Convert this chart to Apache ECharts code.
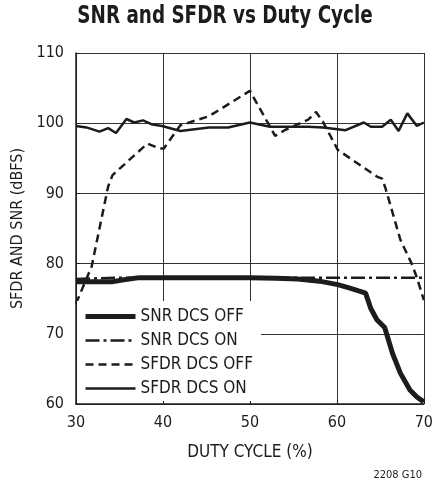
<!DOCTYPE html>
<html>
<head>
<meta charset="utf-8">
<script src="https://cdn.jsdelivr.net/npm/echarts@6/dist/echarts.min.js"></script>
<style>
  html, body { margin: 0; padding: 0; background: #fff; }
  #chart { width: 436px; height: 478px; }
</style>
</head>
<body>
<div id="chart"></div>
<script>
// Duty cycle (%) sample points and measured levels (dBFS) for each trace
const snrOffDuty   = [30, 32, 34.1, 35.5, 37.3, 40, 45, 50, 53, 55.5, 58, 60.1, 61.5, 62.5, 63.3, 63.9, 64.6, 65.5, 66.4, 67.3, 68.4, 69.2, 70];
const snrOffValues = [77.4, 77.4, 77.4, 77.7, 78.0, 78.0, 78.0, 78.0, 77.9, 77.8, 77.5, 77.0, 76.5, 76.1, 75.8, 73.6, 72.0, 70.9, 67.2, 64.4, 62.0, 61.0, 60.3];

const snrOnDuty   = [30, 35, 40, 45, 50, 55, 60, 65, 70];
const snrOnValues = [77.8, 78.0, 78.0, 78.0, 78.0, 78.0, 78.0, 78.0, 78.0];

const sfdrOffDuty   = [30, 31.8, 33.7, 34.2, 38.2, 39.6, 40.1, 42, 45.3, 50, 52.9, 54, 56.7, 57.6, 58.4, 60.1, 64.6, 65.2, 65.6, 67.3, 68.6, 69.2, 70];
const sfdrOffValues = [74.3, 79.6, 91.0, 92.6, 97.1, 96.4, 96.4, 99.7, 101.0, 104.6, 98.2, 99.0, 100.5, 101.6, 100.2, 96.2, 92.4, 92.1, 90.7, 83.4, 80.0, 78.0, 74.8];

const sfdrOnDuty   = [30, 31.2, 32.7, 33.7, 34.6, 35.8, 36.7, 37.7, 38.8, 39.9, 42, 45.3, 47.5, 50, 52.3, 56.7, 58.4, 61, 63.1, 63.9, 65.2, 66.2, 67.1, 68.1, 69.2, 70];
const sfdrOnValues = [99.6, 99.4, 98.8, 99.3, 98.6, 100.6, 100.1, 100.4, 99.8, 99.6, 98.9, 99.4, 99.4, 100.1, 99.5, 99.5, 99.4, 99.0, 100.1, 99.5, 99.5, 100.5, 98.9, 101.4, 99.6, 100.1];

const seriesNames = ['SNR DCS OFF', 'SNR DCS ON', 'SFDR DCS OFF', 'SFDR DCS ON'];
const xTicks = [30, 40, 50, 60, 70];
const yTicks = [60, 70, 80, 90, 100, 110];

const FONT = '"Liberation Sans Narrow", "DejaVu Sans Condensed", "Liberation Sans", sans-serif';
const INK = '#1c1c1c';

// per-trace stroke styles, shared by the plot lines and the legend keys
const strokes = [
  { width: 5 },
  { width: 2.5, type: [14, 4, 3, 4] },
  { width: 2.5, type: [8, 5] },
  { width: 2.5 }
];

function pairs(xs, ys) { return xs.map((x, i) => [x, ys[i]]); }

const traces = [
  pairs(snrOffDuty, snrOffValues),
  pairs(snrOnDuty, snrOnValues),
  pairs(sfdrOffDuty, sfdrOffValues),
  pairs(sfdrOnDuty, sfdrOnValues)
];

const chart = echarts.init(document.getElementById('chart'), null, { renderer: 'canvas' });

chart.setOption({
  animation: false,
  backgroundColor: '#fff',
  graphic: [{
    // condensed bold heading, centred over the plot
    type: 'text',
    x: 225,
    y: 5,
    scaleX: 0.85,
    style: {
      text: 'SNR and SFDR vs Duty Cycle',
      font: 'bold 24px ' + FONT,
      fill: INK,
      align: 'center',
      verticalAlign: 'top'
    }
  }],
  title: [{
    text: '2208 G10',
    right: 9,
    top: 465,
    textStyle: { fontFamily: FONT, fontWeight: 'normal', fontSize: 11, color: INK }
  }],
  grid: { left: 76, right: 9, top: 53, bottom: 74 },
  legend: {
    data: seriesNames.map((n, i) => ({
      name: n,
      lineStyle: { width: strokes[i].width },
      itemStyle: { opacity: 0 }
    })),
    orient: 'vertical',
    left: 77,
    top: 301,
    padding: [7, 8, 4, 6],
    itemWidth: 50,
    itemHeight: 14,
    itemGap: 7,
    backgroundColor: '#fff',
    textStyle: { fontFamily: FONT, fontSize: 17, color: INK },
    z: 10
  },
  xAxis: {
    type: 'value',
    min: xTicks[0],
    max: xTicks[xTicks.length - 1],
    interval: 10,
    name: 'DUTY CYCLE (%)',
    nameLocation: 'middle',
    nameGap: 40,
    nameTextStyle: { fontFamily: FONT, fontSize: 17, color: INK },
    axisLine: { lineStyle: { color: INK, width: 1.5 } },
    axisTick: { inside: true, length: 4, lineStyle: { color: INK } },
    axisLabel: { fontFamily: FONT, fontSize: 16, color: INK, margin: 11 },
    splitLine: { show: true, lineStyle: { color: '#333', width: 1 } }
  },
  yAxis: {
    type: 'value',
    min: yTicks[0],
    max: yTicks[yTicks.length - 1],
    interval: 10,
    name: 'SFDR AND SNR (dBFS)',
    nameLocation: 'middle',
    nameGap: 48,
    nameTextStyle: { fontFamily: FONT, fontSize: 16, color: INK },
    axisLine: { show: true, lineStyle: { color: INK, width: 1.5 } },
    axisTick: { show: true, inside: true, length: 4, lineStyle: { color: INK } },
    axisLabel: { fontFamily: FONT, fontSize: 16, color: INK, margin: 12 },
    splitLine: { show: true, lineStyle: { color: '#333', width: 1 } }
  },
  series: traces.map((data, i) => ({
    name: seriesNames[i],
    type: 'line',
    data: data,
    symbol: 'none',
    color: INK,
    lineStyle: Object.assign({ color: INK }, strokes[i]),
    z: i === 0 ? 4 : 3
  }))
});
</script>
</body>
</html>
